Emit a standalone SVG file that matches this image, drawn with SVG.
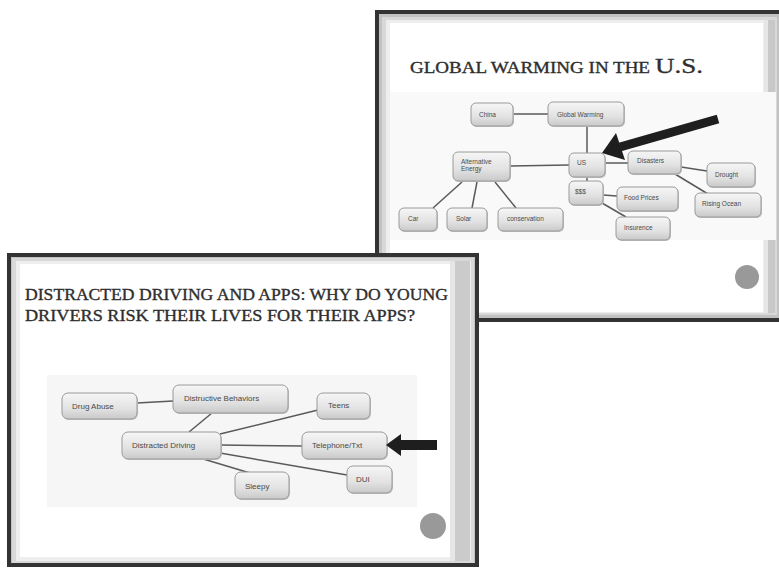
<svg xmlns="http://www.w3.org/2000/svg" width="779" height="569" viewBox="0 0 779 569">
<defs>
<linearGradient id="ng" x1="0" y1="0" x2="0" y2="1">
<stop offset="0" stop-color="#f6f6f6"/>
<stop offset="0.6" stop-color="#e2e2e2"/>
<stop offset="1" stop-color="#c9c9c9"/>
</linearGradient>
</defs>
<style>
.n rect.b{fill:url(#ng);stroke:#9a9a9a;stroke-width:1}
.n rect.s{fill:#c4c4c4}
.t{font-family:"Liberation Sans",Arial,sans-serif;fill:#4a4a4a}
.ts{font-size:6.5px}
.tb{font-size:8px}
.ttl{font-family:"Liberation Serif","Times New Roman",serif;fill:#2e2e2e;stroke:#2e2e2e;stroke-width:0.35}
.c line{stroke:#5a5a5a;stroke-width:1.5}
</style>
<rect width="779" height="569" fill="#ffffff"/>

<!-- Top slide frame -->
<g id="slide-top">
<rect x="377" y="12" width="406" height="308" fill="#c2c2c2" stroke="#333" stroke-width="4"/>
<rect x="382" y="17" width="395" height="298" fill="#d8d8d8"/>
<rect x="386" y="20" width="388" height="293" fill="#eeeeee"/>
<rect x="390" y="23" width="373" height="289" fill="#ffffff"/>
<rect x="764" y="20" width="4" height="293" fill="#e6e6e6"/>
<rect x="768" y="20" width="7" height="293" fill="#c8c8c8"/>
<rect x="390" y="92" width="386" height="148" fill="#f9f9f9"/>
<text class="ttl" x="410" y="73" font-size="16" textLength="240" lengthAdjust="spacingAndGlyphs">GLOBAL WARMING IN THE</text>
<text class="ttl" x="655" y="73" font-size="22" textLength="48" lengthAdjust="spacingAndGlyphs">U.S.</text>
<circle cx="747" cy="277" r="12" fill="#999"/>
</g>

<g id="connectors-top" class="c">
<line x1="513" y1="114" x2="548" y2="114"/>
<line x1="587" y1="126" x2="587" y2="153"/>
<line x1="510" y1="166" x2="569" y2="165"/>
<line x1="605" y1="163" x2="628" y2="163"/>
<line x1="587" y1="177" x2="587" y2="181"/>
<line x1="681" y1="167" x2="707" y2="171"/>
<line x1="675" y1="174" x2="708" y2="194"/>
<line x1="603" y1="195" x2="617" y2="196"/>
<line x1="602" y1="203" x2="626" y2="217"/>
<line x1="462" y1="182" x2="433" y2="208"/>
<line x1="477" y1="182" x2="472" y2="208"/>
<line x1="495" y1="182" x2="516" y2="208"/>
</g>

<g id="n-china" class="n"><rect class="s" x="472" y="104" width="42" height="23" rx="5"/><rect class="b" x="471" y="103" width="42" height="23" rx="5"/><text class="t ts" x="479" y="117">China</text></g>
<g id="n-global-warming" class="n"><rect class="s" x="549" y="103" width="76" height="24" rx="5"/><rect class="b" x="548" y="102" width="76" height="24" rx="5"/><text class="t ts" x="557" y="117">Global Warming</text></g>
<g id="n-alternative-energy" class="n"><rect class="s" x="454" y="153" width="57" height="29" rx="5"/><rect class="b" x="453" y="152" width="57" height="29" rx="5"/><text class="t ts" x="461" y="164">Alternative</text><text class="t ts" x="461" y="171">Energy</text></g>
<g id="n-us" class="n"><rect class="s" x="570" y="154" width="36" height="24" rx="5"/><rect class="b" x="569" y="153" width="36" height="24" rx="5"/><text class="t ts" x="577" y="165">US</text></g>
<g id="n-disasters" class="n"><rect class="s" x="629" y="152" width="53" height="23" rx="5"/><rect class="b" x="628" y="151" width="53" height="23" rx="5"/><text class="t ts" x="637" y="163">Disasters</text></g>
<g id="n-drought" class="n"><rect class="s" x="708" y="164" width="48" height="24" rx="5"/><rect class="b" x="707" y="163" width="48" height="24" rx="5"/><text class="t ts" x="715" y="177">Drought</text></g>
<g id="n-money" class="n"><rect class="s" x="570" y="182" width="34" height="24" rx="5"/><rect class="b" x="569" y="181" width="34" height="24" rx="5"/><text class="t ts" x="575" y="194">$$$</text></g>
<g id="n-food-prices" class="n"><rect class="s" x="618" y="188" width="61" height="24" rx="5"/><rect class="b" x="617" y="187" width="61" height="24" rx="5"/><text class="t ts" x="624" y="200">Food Prices</text></g>
<g id="n-rising-ocean" class="n"><rect class="s" x="696" y="194" width="66" height="24" rx="5"/><rect class="b" x="695" y="193" width="66" height="24" rx="5"/><text class="t ts" x="702" y="206">Rising Ocean</text></g>
<g id="n-insurence" class="n"><rect class="s" x="617" y="218" width="54" height="23" rx="5"/><rect class="b" x="616" y="217" width="54" height="23" rx="5"/><text class="t ts" x="624" y="230">Insurence</text></g>
<g id="n-car" class="n"><rect class="s" x="400" y="209" width="38" height="23" rx="5"/><rect class="b" x="399" y="208" width="38" height="23" rx="5"/><text class="t ts" x="408" y="221">Car</text></g>
<g id="n-solar" class="n"><rect class="s" x="448" y="209" width="40" height="23" rx="5"/><rect class="b" x="447" y="208" width="40" height="23" rx="5"/><text class="t ts" x="456" y="221">Solar</text></g>
<g id="n-conservation" class="n"><rect class="s" x="499" y="209" width="65" height="23" rx="5"/><rect class="b" x="498" y="208" width="65" height="23" rx="5"/><text class="t ts" x="507" y="221">conservation</text></g>

<g id="arrow-top">
<line x1="718" y1="119" x2="620" y2="147" stroke="#1e1e1e" stroke-width="9"/>
<polygon points="602,153 616,133 625,160" fill="#1e1e1e"/>
</g>

<!-- Bottom slide frame -->
<g id="slide-bottom">
<rect x="9" y="255" width="468" height="310" fill="#c2c2c2" stroke="#333" stroke-width="4"/>
<rect x="12" y="258" width="462" height="305" fill="#d8d8d8"/>
<rect x="16" y="261" width="455" height="300" fill="#eeeeee"/>
<rect x="20" y="264" width="430" height="293" fill="#ffffff"/>
<rect x="450" y="261" width="5" height="300" fill="#e6e6e6"/>
<rect x="455" y="261" width="15" height="300" fill="#cbcbcb"/>
<rect x="47" y="375" width="370" height="132" fill="#f6f6f6"/>
<text class="ttl" x="25" y="300" font-size="16.5" textLength="423" lengthAdjust="spacingAndGlyphs">DISTRACTED DRIVING AND APPS: WHY DO YOUNG</text>
<text class="ttl" x="25" y="321" font-size="16.5" textLength="390" lengthAdjust="spacingAndGlyphs">DRIVERS RISK THEIR LIVES FOR THEIR APPS?</text>
<circle cx="433" cy="526" r="13" fill="#999"/>
</g>

<g id="connectors-bottom" class="c">
<line x1="137" y1="403" x2="173" y2="401"/>
<line x1="212" y1="413" x2="189" y2="432"/>
<line x1="220" y1="434" x2="318" y2="410"/>
<line x1="220" y1="445" x2="302" y2="446" stroke-width="2"/>
<line x1="220" y1="453" x2="347" y2="475"/>
<line x1="200" y1="458" x2="250" y2="473"/>
</g>

<g id="n-drug-abuse" class="n"><rect class="s" x="63" y="394" width="75" height="26" rx="6"/><rect class="b" x="62" y="393" width="75" height="26" rx="6"/><text class="t tb" x="72" y="409">Drug Abuse</text></g>
<g id="n-distructive-behaviors" class="n"><rect class="s" x="174" y="386" width="115" height="28" rx="6"/><rect class="b" x="173" y="385" width="115" height="28" rx="6"/><text class="t tb" x="184" y="401">Distructive Behaviors</text></g>
<g id="n-teens" class="n"><rect class="s" x="318" y="394" width="53" height="26" rx="6"/><rect class="b" x="317" y="393" width="53" height="26" rx="6"/><text class="t tb" x="328" y="408">Teens</text></g>
<g id="n-distracted-driving" class="n"><rect class="s" x="123" y="433" width="99" height="27" rx="6"/><rect class="b" x="122" y="432" width="99" height="27" rx="6"/><text class="t tb" x="132" y="448">Distracted Driving</text></g>
<g id="n-telephone" class="n"><rect class="s" x="303" y="433" width="85" height="27" rx="6"/><rect class="b" x="302" y="432" width="85" height="27" rx="6"/><text class="t tb" x="312" y="448">Telephone/Txt</text></g>
<g id="n-dui" class="n"><rect class="s" x="348" y="467" width="45" height="27" rx="6"/><rect class="b" x="347" y="466" width="45" height="27" rx="6"/><text class="t tb" x="356" y="482">DUI</text></g>
<g id="n-sleepy" class="n"><rect class="s" x="236" y="473" width="54" height="27" rx="6"/><rect class="b" x="235" y="472" width="54" height="27" rx="6"/><text class="t tb" x="245" y="489">Sleepy</text></g>

<g id="arrow-bottom">
<rect x="398" y="440" width="39" height="10" fill="#1e1e1e"/>
<polygon points="386,445 401,434 401,456" fill="#1e1e1e"/>
</g>
</svg>
